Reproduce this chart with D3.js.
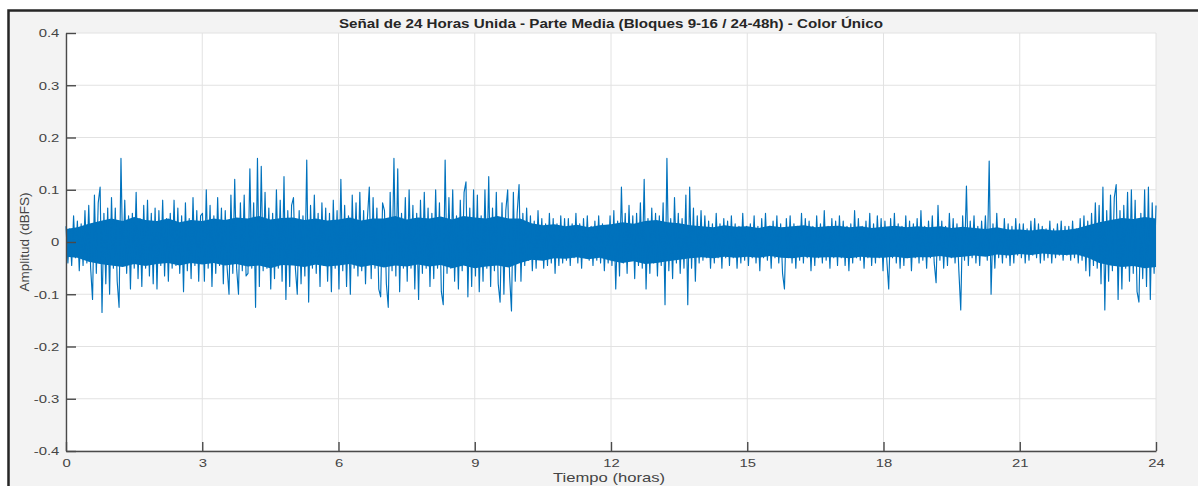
<!DOCTYPE html>
<html>
<head>
<meta charset="utf-8">
<script src="https://cdn.jsdelivr.net/npm/d3@7"></script>
<style>
  body { margin: 0; background: #ffffff; }
  svg { display: block; }
  text { font-family: "Liberation Sans", Arial, Helvetica, sans-serif; }
</style>
</head>
<body>
<svg id="chart" width="1198" height="486"></svg>
<script>
// ---- labels and ticks ----
const titleText = "Señal de 24 Horas Unida - Parte Media (Bloques 9-16 / 24-48h) - Color Único";
const xLabelText = "Tiempo (horas)";
const yLabelText = "Amplitud (dBFS)";
const xTicks = [0, 3, 6, 9, 12, 15, 18, 21, 24];
const xTickLabels = ["0", "3", "6", "9", "12", "15", "18", "21", "24"];
const yTicks = [-0.4, -0.3, -0.2, -0.1, 0, 0.1, 0.2, 0.3, 0.4];
const yTickLabels = ["-0.4", "-0.3", "-0.2", "-0.1", "0", "0.1", "0.2", "0.3", "0.4"];

// ---- signal: 24 samples per hour, one array per 3-hour block ----
const block9 = [
  .03,-.04,.025,-.045,.05,-.03,.04,-.055,.035,-.045,.06,-.04,.07,-.05,-.11,.09,-.06,.075,.105,-.135,.055,-.08,.065,-.10,
  .085,-.05,.065,-.075,-.125,.16,-.045,.08,-.06,.05,-.09,.055,-.05,.095,-.07,.045,-.085,.07,-.05,.08,-.065,.055,-.08,.065,
  -.09,.06,-.045,.08,-.065,.045,-.075,.055,-.05,.08,-.045,.065,-.06,.05,-.095,.075,-.055,.045,-.07,.085,-.045,.06,-.075,.05
];
const block10 = [
  .055,-.075,.10,-.05,.07,-.085,.05,-.06,.085,-.045,.065,-.08,.06,-.05,-.10,.09,-.06,.12,-.05,-.10,.075,-.055,.09,-.065,
  -.06,.14,-.05,.075,-.125,.16,-.085,.145,-.055,.095,-.05,.065,-.09,.055,-.07,.10,-.05,.08,-.075,.125,-.11,.06,-.085,.07,
  .085,-.05,-.10,.06,-.08,.05,-.065,.157,-.115,.07,-.05,.09,-.06,.055,-.085,.075,-.045,.065,-.075,.055,-.095,.08,-.05,.06
];
const block11 = [
  -.09,.12,-.055,.07,-.085,.05,-.10,.09,-.05,.075,-.065,.095,-.055,.06,-.08,.045,.105,-.07,.085,-.05,.065,-.09,-.105,.075,
  .06,-.08,-.125,.095,-.055,.16,-.065,.14,-.095,.055,-.05,.085,-.075,.10,-.05,.07,-.09,.055,-.11,.08,-.06,.095,-.05,.065,
  -.085,.055,-.07,.10,-.05,.075,-.095,-.12,.157,-.06,.085,-.05,.10,-.075,.05,-.09,.08,-.055,.095,.115,-.105,.065,-.085,.10
];
const block12 = [
  -.065,.09,-.095,.05,-.075,.10,-.05,.125,-.085,.065,-.055,.095,-.08,-.115,.075,-.10,.06,.10,-.065,-.132,.095,-.075,.055,.11,
  -.075,.055,-.045,.065,-.035,.05,-.055,.04,-.05,.06,-.03,.045,-.05,.035,-.045,.055,-.04,.045,-.06,.035,-.045,.05,-.04,.045,
  -.035,.045,-.045,.035,-.03,.055,-.04,.035,-.05,.045,-.03,.05,-.035,.03,-.045,.04,-.035,.05,-.04,.035,-.055,.03,-.04,.05
];
const block13 = [
  -.045,.06,-.09,.04,-.065,.105,-.04,.055,-.06,.07,-.035,.05,-.07,.055,-.045,.075,-.05,.12,-.09,.045,-.06,.065,-.04,.055,
  -.065,.05,-.045,.075,-.12,.16,-.055,.045,-.07,.085,-.04,.055,-.06,.045,-.05,.09,-.12,.105,-.05,.065,-.075,.05,-.04,.06,
  -.035,.05,-.03,.04,-.05,.035,-.04,.055,-.03,.035,-.05,.045,-.03,.04,-.045,.05,-.03,.035,-.05,.03,-.04,.055,-.035,.03
];
const block14 = [
  -.045,.035,-.03,.05,-.04,.03,-.055,.045,-.03,.055,-.035,.03,-.05,.04,-.03,.05,-.04,.035,-.06,-.09,.045,-.03,.05,-.04,
  .035,-.05,.03,-.035,.055,-.04,.045,-.03,.04,-.055,.03,-.045,.05,-.03,.035,-.04,.06,-.035,.03,-.05,.045,-.03,.04,-.045,
  .05,-.03,.04,-.045,.03,-.055,.035,-.04,.06,-.03,.045,-.035,.03,-.05,.04,-.03,.055,-.045,.035,-.04,.05,-.03,.045,-.055
];
const block15 = [
  .04,-.035,-.09,.045,-.03,.055,-.04,.035,-.05,.03,-.045,.05,-.03,.04,-.055,.035,-.03,.045,-.04,.06,-.035,.03,-.05,.04,
  -.03,.05,-.04,-.078,.07,-.035,.04,-.05,.03,-.045,.055,-.03,.045,-.04,.035,-.055,-.13,.05,-.035,.107,-.045,.04,-.03,.05,
  -.04,.03,-.045,.04,-.025,.05,-.035,.155,-.10,.035,-.05,.055,-.03,.025,-.04,.045,-.03,.035,-.045,.03,-.04,.045,-.025,.035
];
const block16 = [
  -.03,.035,-.04,.025,-.035,.04,-.025,.045,-.03,.035,-.04,.03,-.035,.025,-.03,.04,-.04,.025,-.03,.035,-.025,.04,-.035,.03,
  -.025,.03,-.035,.04,-.03,.025,-.04,.045,-.035,.05,-.055,.04,-.065,.055,-.045,.075,-.05,.07,-.08,.105,-.13,.06,-.075,.09,
  -.055,.085,.11,-.11,.06,-.09,.07,-.05,.095,-.075,.10,-.06,.08,-.095,-.115,.055,-.07,.10,-.085,.105,-.11,.075,-.06,.07
];

// dense core of the trace, every quarter hour (0, 0.25, ... 24 h)
const coreUpper = [
  .025,.028,.035,.04,   .045,.04,.048,.042,   .04,.045,.038,.042,
  .04,.045,.042,.047,   .045,.05,.043,.046,   .047,.042,.045,.041,
  .043,.047,.041,.045,  .045,.05,.043,.047,   .045,.049,.043,.05,
  .047,.045,.05,.045,   .045,.036,.032,.034,  .03,.033,.028,.032,
  .034,.038,.035,.04,   .042,.038,.036,.032,  .03,.028,.032,.029,
  .03,.027,.031,.028,   .03,.032,.028,.03,    .031,.028,.03,.027,
  .029,.031,.028,.03,   .028,.03,.027,.029,   .027,.025,.028,.024,
  .024,.022,.025,.022,  .023,.026,.032,.038,  .042,.046,.044,.048,
  .045
];
const coreLower = [
  -.028,-.03,-.038,-.042,  -.045,-.048,-.042,-.046,  -.042,-.04,-.045,-.04,
  -.043,-.04,-.045,-.042,  -.047,-.045,-.05,-.044,   -.045,-.048,-.043,-.047,
  -.045,-.042,-.048,-.044, -.049,-.045,-.047,-.043,  -.047,-.044,-.05,-.045,
  -.05,-.047,-.045,-.049,  -.04,-.034,-.036,-.031,   -.032,-.029,-.033,-.03,
  -.036,-.04,-.037,-.042,  -.04,-.037,-.034,-.031,   -.029,-.031,-.028,-.03,
  -.028,-.03,-.027,-.03,   -.031,-.028,-.03,-.029,   -.029,-.031,-.028,-.03,
  -.03,-.028,-.031,-.029,  -.029,-.027,-.03,-.028,   -.026,-.028,-.024,-.026,
  -.023,-.025,-.022,-.024, -.025,-.024,-.03,-.04,    -.045,-.048,-.046,-.05,
  -.048
];

// ---- assemble ----
const amplitude = [].concat(block9, block10, block11, block12, block13, block14, block15, block16);
const totalHours = 24;
const samples = amplitude.map((v, i) => ({ t: i * totalHours / (amplitude.length - 1), v }));
const core = coreUpper.map((hi, i) => ({ t: i * totalHours / (coreUpper.length - 1), hi, lo: coreLower[i] }));

const svg = d3.select("#chart");
const W = 1198, H = 486;
const plot = { left: 66, right: 1156, top: 33, bottom: 451 };

const x = d3.scaleLinear().domain([0, 24]).range([plot.left, plot.right]);
const y = d3.scaleLinear().domain([-0.4, 0.4]).range([plot.bottom, plot.top]);

const lineColor = "#0072BD";
const textColor = "#444444";
const textStretch = 1.35;

// figure panel with dark frame on top and left
svg.append("rect")
  .attr("x", 8.5).attr("y", 10.5)
  .attr("width", W + 20).attr("height", H + 20)
  .attr("fill", "#f3f3f3")
  .attr("stroke", "#262626").attr("stroke-width", 2.5);

// axes background
svg.append("rect")
  .attr("x", plot.left).attr("y", plot.top)
  .attr("width", plot.right - plot.left).attr("height", plot.bottom - plot.top)
  .attr("fill", "#ffffff");

// grid
const grid = svg.append("g").attr("stroke", "#e2e2e2").attr("stroke-width", 1);
grid.selectAll("line.gx").data(xTicks).join("line")
  .attr("class", "gx")
  .attr("x1", d => x(d)).attr("x2", d => x(d))
  .attr("y1", plot.top).attr("y2", plot.bottom);
grid.selectAll("line.gy").data(yTicks).join("line")
  .attr("class", "gy")
  .attr("x1", plot.left).attr("x2", plot.right)
  .attr("y1", d => y(d)).attr("y2", d => y(d));

// trace
svg.append("path")
  .datum(core)
  .attr("fill", lineColor)
  .attr("d", d3.area().x(d => x(d.t)).y0(d => y(d.lo)).y1(d => y(d.hi)));

svg.append("path")
  .datum(samples)
  .attr("fill", "none")
  .attr("stroke", lineColor)
  .attr("stroke-width", 1.15)
  .attr("stroke-linejoin", "round")
  .attr("d", d3.line().x(d => x(d.t)).y(d => y(d.v)));

// axes
const yAxis = d3.axisLeft(y)
  .tickValues(yTicks)
  .tickFormat((d, i) => yTickLabels[i])
  .tickSizeInner(-10).tickSizeOuter(0).tickPadding(5);
const xAxis = d3.axisBottom(x)
  .tickValues(xTicks)
  .tickFormat((d, i) => xTickLabels[i])
  .tickSizeInner(-9).tickSizeOuter(0).tickPadding(8);

function styleAxis(g) {
  g.select(".domain").attr("stroke", "#4a4a4a").attr("stroke-width", 1.4);
  g.selectAll(".tick line").attr("stroke", "#4a4a4a").attr("stroke-width", 1.4);
  g.selectAll(".tick text")
    .attr("fill", textColor)
    .style("font-size", "11px")
    .style("font-family", '"Liberation Sans", Arial, sans-serif')
    .attr("transform", `scale(${textStretch},1)`);
}

svg.append("g")
  .attr("transform", `translate(${plot.left},0)`)
  .call(yAxis)
  .call(styleAxis)
  .selectAll(".tick text").attr("dy", "0.35em");

svg.append("g")
  .attr("transform", `translate(0,${plot.bottom})`)
  .call(xAxis)
  .call(styleAxis);

// title and axis labels
svg.append("text")
  .attr("x", (plot.left + plot.right) / 2).attr("y", 28)
  .attr("text-anchor", "middle")
  .attr("font-size", 13).attr("font-weight", "bold")
  .attr("fill", "#262626")
  .attr("textLength", 544).attr("lengthAdjust", "spacingAndGlyphs")
  .text(titleText);

svg.append("text")
  .attr("x", 609).attr("y", 482)
  .attr("text-anchor", "middle")
  .attr("font-size", 13)
  .attr("fill", textColor)
  .attr("textLength", 112).attr("lengthAdjust", "spacingAndGlyphs")
  .text(xLabelText);

svg.append("text")
  .attr("transform", `translate(28.5,${(plot.top + plot.bottom) / 2}) rotate(-90)`)
  .attr("text-anchor", "middle")
  .attr("font-size", 13)
  .attr("fill", textColor)
  .attr("textLength", 99).attr("lengthAdjust", "spacingAndGlyphs")
  .text(yLabelText);
</script>
</body>
</html>
